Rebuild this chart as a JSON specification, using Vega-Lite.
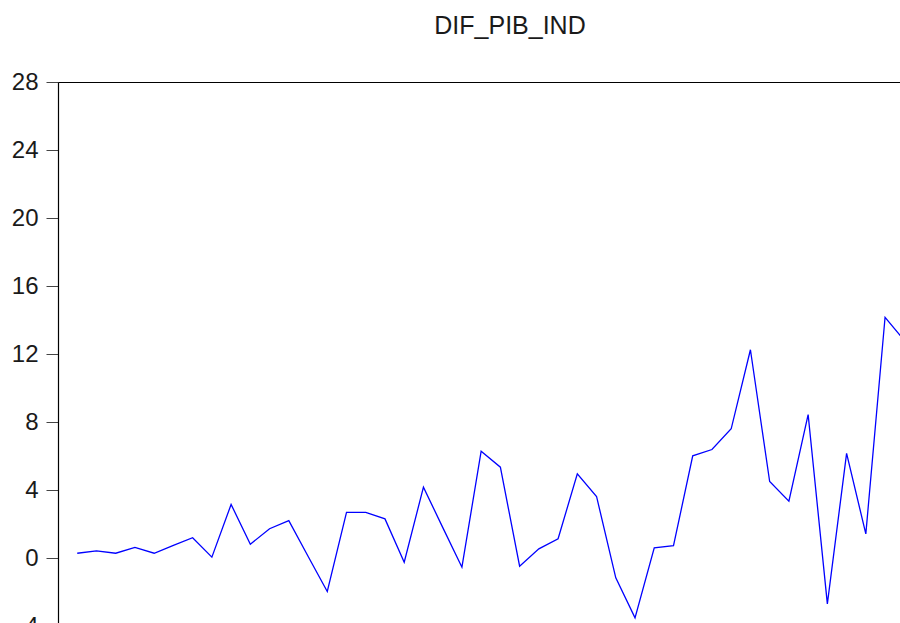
{
  "$schema": "https://vega.github.io/schema/vega-lite/v6.json",
  "autosize": "none",
  "padding": {"left": 58, "top": 82, "right": 0, "bottom": 0},
  "width": 904,
  "height": 612,
  "background": "white",
  "config": {
    "view": {"stroke": "#000000", "strokeWidth": 1},
    "font": "Liberation Sans"
  },
  "title": {
    "text": "DIF_PIB_IND",
    "fontSize": 25,
    "font": "Liberation Sans",
    "fontWeight": "normal",
    "color": "#1a1a1a",
    "anchor": "middle",
    "frame": "group",
    "baseline": "alphabetic",
    "offset": 11,
    "limit": 0,
    "dx": 0
  },
  "data": {
    "values": [
      {"obs": 1, "value": 0.28},
      {"obs": 2, "value": 0.42},
      {"obs": 3, "value": 0.28},
      {"obs": 4, "value": 0.62},
      {"obs": 5, "value": 0.28},
      {"obs": 6, "value": 0.74},
      {"obs": 7, "value": 1.19},
      {"obs": 8, "value": 0.05},
      {"obs": 9, "value": 3.15},
      {"obs": 10, "value": 0.81},
      {"obs": 11, "value": 1.72},
      {"obs": 12, "value": 2.2},
      {"obs": 13, "value": 0.1},
      {"obs": 14, "value": -1.97},
      {"obs": 15, "value": 2.68},
      {"obs": 16, "value": 2.68},
      {"obs": 17, "value": 2.3},
      {"obs": 18, "value": -0.25},
      {"obs": 19, "value": 4.17},
      {"obs": 20, "value": 1.8},
      {"obs": 21, "value": -0.54},
      {"obs": 22, "value": 6.28},
      {"obs": 23, "value": 5.34},
      {"obs": 24, "value": -0.48},
      {"obs": 25, "value": 0.54},
      {"obs": 26, "value": 1.13},
      {"obs": 27, "value": 4.95},
      {"obs": 28, "value": 3.62},
      {"obs": 29, "value": -1.17},
      {"obs": 30, "value": -3.52},
      {"obs": 31, "value": 0.6},
      {"obs": 32, "value": 0.72},
      {"obs": 33, "value": 6.01},
      {"obs": 34, "value": 6.38},
      {"obs": 35, "value": 7.6},
      {"obs": 36, "value": 12.25},
      {"obs": 37, "value": 4.5},
      {"obs": 38, "value": 3.34},
      {"obs": 39, "value": 8.44},
      {"obs": 40, "value": -2.7},
      {"obs": 41, "value": 6.15},
      {"obs": 42, "value": 1.42},
      {"obs": 43, "value": 14.16},
      {"obs": 44, "value": 12.8}
    ]
  },
  "mark": {"type": "line", "color": "#0000ff", "strokeWidth": 1.3},
  "encoding": {
    "x": {
      "field": "obs",
      "type": "quantitative",
      "scale": {"domain": [0, 47], "nice": false, "zero": false},
      "axis": null
    },
    "y": {
      "field": "value",
      "type": "quantitative",
      "scale": {"domain": [-8, 28], "nice": false, "zero": false},
      "axis": {
        "title": null,
        "values": [-8, -4, 0, 4, 8, 12, 16, 20, 24, 28],
        "grid": false,
        "domainColor": "#000000",
        "domainWidth": 1.2,
        "tickColor": "#444444",
        "tickSize": 12,
        "tickWidth": 1,
        "labelFontSize": 24,
        "labelFont": "Liberation Sans",
        "labelColor": "#1a1a1a",
        "labelPadding": 8,
        "labelFlush": false,
        "labelOverlap": false
      }
    }
  }
}
